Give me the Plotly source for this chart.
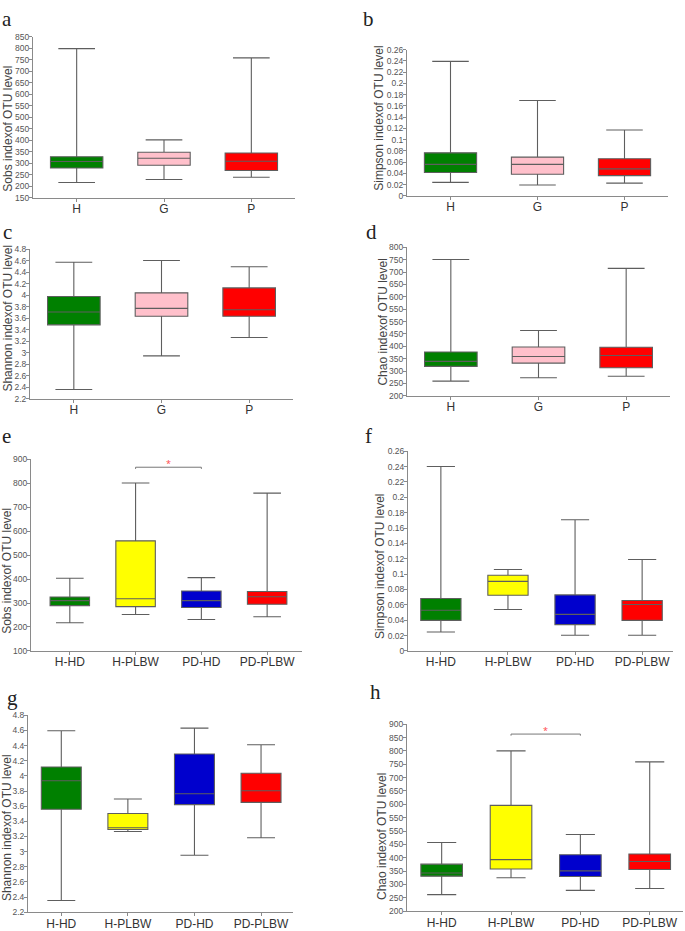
import plotly.graph_objects as go

# ---------------- data ----------------
cats3 = ["H", "G", "P"]
cats4 = ["H-HD", "H-PLBW", "PD-HD", "PD-PLBW"]
colors3 = ["#008000", "#FFC0CB", "#FF0000"]
colors4 = ["#008000", "#FFFF00", "#0000CD", "#FF0000"]

# panel a: Sobs (H, G, P)
a_low = [217, 230, 240]
a_q1 = [280, 292, 269]
a_med = [308, 322, 309]
a_q3 = [329, 348, 345]
a_high = [798, 402, 758]

# panel b: Simpson
b_low = [0.024, 0.0193, 0.0228]
b_q1 = [0.0415, 0.0386, 0.036]
b_med = [0.056, 0.056, 0.048]
b_q3 = [0.0765, 0.069, 0.066]
b_high = [0.239, 0.1695, 0.117]

# panel c: Shannon
c_low = [2.36, 2.946, 3.267]
c_q1 = [3.486, 3.635, 3.635]
c_med = [3.709, 3.773, 3.75]
c_q3 = [3.979, 4.043, 4.129]
c_high = [4.576, 4.605, 4.496]

# panel d: Chao
d_low = [259, 273, 279]
d_q1 = [319, 332, 313]
d_med = [339, 359, 363]
d_q3 = [377, 397, 396]
d_high = [751, 464, 715]

# panel e: Sobs (4 groups)
e_low = [218, 252, 231, 243]
e_q1 = [289, 285, 281, 295]
e_med = [310, 318, 310, 326]
e_q3 = [325, 559, 350, 348]
e_high = [403, 800, 406, 758]

# panel f: Simpson (4 groups)
f_low = [0.0247, 0.054, 0.0205, 0.0205]
f_q1 = [0.0398, 0.0725, 0.0343, 0.0398]
f_med = [0.0531, 0.0906, 0.0476, 0.0605]
f_q3 = [0.0682, 0.0985, 0.073, 0.0656]
f_high = [0.24, 0.106, 0.1707, 0.119]

# panel g: Shannon (4 groups)
g_low = [2.353, 3.266, 2.951, 3.183]
g_q1 = [3.559, 3.292, 3.62, 3.65]
g_med = [3.935, 3.314, 3.764, 3.803]
g_q3 = [4.118, 3.502, 4.289, 4.035]
g_high = [4.595, 3.694, 4.63, 4.411]

# panel h: Chao (4 groups)
h_low = [262, 325, 278, 285]
h_q1 = [331, 358, 330, 356]
h_med = [343, 393, 351, 386]
h_q3 = [376, 596, 411, 414]
h_high = [457, 800, 487, 759]

# significance brackets (pair, bracket level, tick bottom)
e_sig = ("H-PLBW", "PD-HD", 866, 859)
h_sig = ("H-PLBW", "PD-HD", 863, 857)

# tick labels
a_ticks = [150, 200, 250, 300, 350, 400, 450, 500, 550, 600, 650, 700, 750, 800, 850]
a_ticktext = [str(v) for v in a_ticks]
b_ticks = [0, 0.02, 0.04, 0.06, 0.08, 0.1, 0.12, 0.14, 0.16, 0.18, 0.2, 0.22, 0.24, 0.26]
b_ticktext = ["0", "0.02", "0.04", "0.06", "0.08", "0.1", "0.12", "0.14", "0.16", "0.18", "0.2", "0.22", "0.24", "0.26"]
c_ticks = [2.2, 2.4, 2.6, 2.8, 3.0, 3.2, 3.4, 3.6, 3.8, 4.0, 4.2, 4.4, 4.6, 4.8]
c_ticktext = ["2.2", "2.4", "2.6", "2.8", "3", "3.2", "3.4", "3.6", "3.8", "4", "4.2", "4.4", "4.6", "4.8"]
d_ticks = [200, 250, 300, 350, 400, 450, 500, 550, 600, 650, 700, 750, 800]
d_ticktext = ["200", "250", "300", "350", "400", "450", "550", "550", "600", "650", "700", "750", "800"]
e_ticks = [100, 200, 300, 400, 500, 600, 700, 800, 900]
e_ticktext = [str(v) for v in e_ticks]
h_ticks = [200, 250, 300, 350, 400, 450, 500, 550, 600, 650, 700, 750, 800, 850, 900]
h_ticktext = ["200", "250", "300", "350", "400", "450", "550", "550", "600", "650", "700", "750", "800", "850", "900"]

# ---------------- layout helpers ----------------
W, H = 685, 931


def dx(a, b):
    return [a / W, b / W]


def dy(top, bottom):
    return [1 - bottom / H, 1 - top / H]


fig = go.Figure()
AX_COL = "#8a8a8a"
FONT = "Liberation Sans, Arial, sans-serif"


def panel(i, cats, colors, low, q1, med, q3, high, ytitle, tv, tt, yr,
          xpx, ypx, xr, letter, lpos, tpos):
    xa = "x" if i == 1 else f"x{i}"
    ya = "y" if i == 1 else f"y{i}"
    for k, c in enumerate(cats):
        fig.add_trace(go.Box(
            x=[c], q1=[q1[k]], median=[med[k]], q3=[q3[k]],
            lowerfence=[low[k]], upperfence=[high[k]],
            fillcolor=colors[k], line=dict(color="#5e5e5e", width=1.1),
            width=0.6, whiskerwidth=0.7, boxpoints=False,
            xaxis=xa, yaxis=ya, showlegend=False, hoverinfo="skip"))
    key = "" if i == 1 else str(i)
    fig.layout["xaxis" + key] = dict(
        domain=dx(*xpx), anchor=ya, type="category", categoryorder="array",
        categoryarray=cats, range=xr, showline=True, linecolor=AX_COL,
        linewidth=1, ticks="outside", ticklen=3, tickcolor=AX_COL,
        ticklabelstandoff=-3,
        tickfont=dict(size=12, color="#333333", family=FONT),
        showgrid=False, zeroline=False, fixedrange=True)
    fig.layout["yaxis" + key] = dict(
        domain=dy(*ypx), anchor=xa, range=yr, tickvals=tv, ticktext=tt,
        showline=True, linecolor=AX_COL, linewidth=1, ticks="outside",
        ticklen=3, tickcolor=AX_COL, ticklabelstandoff=-2,
        tickfont=dict(size=8.5, color="#555555", family=FONT),
        showgrid=False, zeroline=False, fixedrange=True)
    # y-axis title as rotated text
    fig.add_annotation(text=ytitle, x=tpos[0] / W, y=1 - tpos[1] / H,
                       xref="paper", yref="paper", xanchor="center",
                       yanchor="middle", textangle=-90, showarrow=False,
                       borderpad=0,
                       font=dict(size=12, color="#444444", family=FONT))
    fig.add_annotation(text=letter, x=lpos[0] / W, y=1 - lpos[1] / H,
                       xref="paper", yref="paper", xanchor="left",
                       yanchor="top", showarrow=False,
                       font=dict(size=21, color="#222222",
                                 family="Liberation Serif, Times New Roman, serif"))


def sig(i, s):
    xa = "x" if i == 1 else f"x{i}"
    ya = "y" if i == 1 else f"y{i}"
    c1, c2, top, bot = s
    fig.add_trace(go.Scatter(x=[c1, c1, c2, c2], y=[bot, top, top, bot],
                             mode="lines", line=dict(color="#777777", width=1),
                             xaxis=xa, yaxis=ya, showlegend=False,
                             hoverinfo="skip"))
    fig.add_annotation(x=1.5, y=top, xref=xa, yref=ya, text="*",
                       showarrow=False, yanchor="bottom", yshift=-5,
                       font=dict(size=9, color="#FF4444"))


panel(1, cats3, colors3, a_low, a_q1, a_med, a_q3, a_high,
      "Sobs indexof OTU level", a_ticks, a_ticktext, [150, 850],
      (33, 295), (32, 195), [-0.5, 2.5], "a", (0, 0), (8, 125))
panel(2, cats3, colors3, b_low, b_q1, b_med, b_q3, b_high,
      "Simpson indexof OTU level", b_ticks, b_ticktext, [0, 0.26],
      (407, 668), (45, 193), [-0.5, 2.5], "b", (361, 0), (379, 114))
panel(3, cats3, colors3, c_low, c_q1, c_med, c_q3, c_high,
      "Shannon indexof OTU level", c_ticks, c_ticktext, [2.2, 4.8],
      (30, 293), (247, 398), [-0.5, 2.5], "c", (1, 215), (8, 317))
panel(4, cats3, colors3, d_low, d_q1, d_med, d_q3, d_high,
      "Chao indexof OTU level", d_ticks, d_ticktext, [200, 800],
      (407, 670), (245, 395), [-0.5, 2.5], "d", (364, 215), (383, 321))
panel(5, cats4, colors4, e_low, e_q1, e_med, e_q3, e_high,
      "Sobs indexof OTU level", e_ticks, e_ticktext, [100, 900],
      (31, 302), (459, 653), [-0.59, 3.53], "e", (0, 422), (7, 572))
panel(6, cats4, colors4, f_low, f_q1, f_med, f_q3, f_high,
      "Simpson indexof OTU level", b_ticks, b_ticktext, [0, 0.26],
      (408, 673), (451, 653), [-0.49, 3.46], "f", (363, 422), (380, 568))
panel(7, cats4, colors4, g_low, g_q1, g_med, g_q3, g_high,
      "Shannon indexof OTU level", c_ticks, c_ticktext, [2.2, 4.8],
      (28, 293), (718, 917), [-0.5, 3.48], "g", (5, 686), (7, 832))
panel(8, cats4, colors4, h_low, h_q1, h_med, h_q3, h_high,
      "Chao indexof OTU level", h_ticks, h_ticktext, [200, 900],
      (407, 683), (727, 916), [-0.5, 3.48], "h", (368, 680), (382, 841))

sig(5, e_sig)
sig(8, h_sig)

fig.update_layout(width=W, height=H, margin=dict(l=0, r=0, t=0, b=0),
                  paper_bgcolor="white", plot_bgcolor="white",
                  boxmode="overlay", showlegend=False)

fig.write_html("out.html", config={"displayModeBar": False},
               post_script="document.body.style.margin='0';"
                           "document.body.style.overflow='hidden';")
